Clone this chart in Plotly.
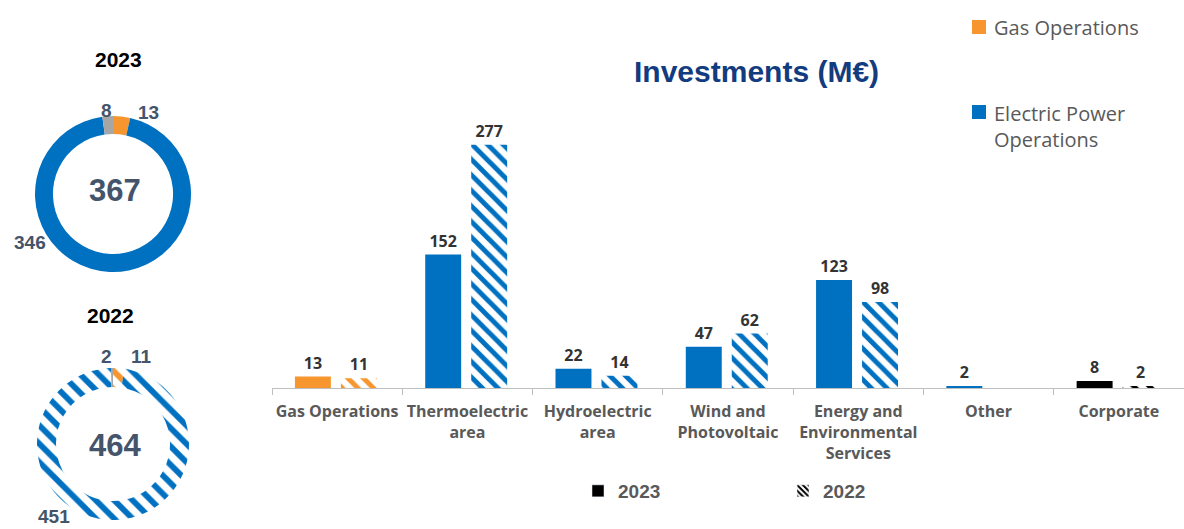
import plotly.graph_objects as go

# ---------------- data ----------------
categories = ["Gas Operations", "Thermoelectric<br>area", "Hydroelectric<br>area",
              "Wind and<br>Photovoltaic", "Energy and<br>Environmental<br>Services",
              "Other", "Corporate"]
values_2023 = [13, 152, 22, 47, 123, 2, 8]
values_2022 = [11, 277, 14, 62, 98, None, 2]
bar_colors = ["#F7962F", "#0070C0", "#0070C0", "#0070C0", "#0070C0", "#0070C0", "#000000"]

donut_labels = ["Gas Operations", "Electric Power Operations", "Corporate"]
donut_2023 = [13, 346, 8]
donut_2022 = [11, 451, 2]
donut_colors = ["#F7962F", "#0070C0", "#A6A6A6"]

legend_names = ["Gas Operations", "Electric Power<br>Operations"]
legend_colors = ["#F7962F", "#0070C0"]

W, H = 1184, 529
def px(x):
    return x / W
def py(y):
    return 1 - y / H

LABEL_FONT = "Open Sans"
SLATE = "#44546A"

fig = go.Figure()

# ---------------- bars ----------------
fig.add_trace(go.Bar(
    x=categories, y=values_2023,
    marker=dict(color=bar_colors, line=dict(width=0)),
    width=0.276, offset=-0.324,
    text=[f"<b>{v}</b>" if v is not None else "" for v in values_2023],
    textposition="outside", cliponaxis=False,
    textfont=dict(family=LABEL_FONT, size=16, color="#333333"),
    showlegend=False, hoverinfo="skip",
))
fig.add_trace(go.Bar(
    x=categories, y=values_2022,
    marker=dict(color=bar_colors, line=dict(width=0),
                pattern=dict(shape="\\", fgcolor=bar_colors, bgcolor="white",
                             size=11, solidity=0.45, fillmode="replace")),
    width=0.276, offset=0.029,
    text=[f"<b>{v}</b>" if v is not None else "" for v in values_2022],
    textposition="outside", cliponaxis=False,
    textfont=dict(family=LABEL_FONT, size=16, color="#333333"),
    showlegend=False, hoverinfo="skip",
))

# legend-only traces (on a hidden axis pair)
fig.add_trace(go.Bar(x=[None], y=[None], name="2023", marker=dict(color="black"),
                     xaxis="x2", yaxis="y2", showlegend=True))
fig.add_trace(go.Bar(x=[None], y=[None], name="2022",
                     marker=dict(color="black",
                                 pattern=dict(shape="\\", fgcolor="black", bgcolor="white",
                                              size=5, solidity=0.5, fillmode="replace")),
                     xaxis="x2", yaxis="y2", showlegend=True))

# ---------------- donuts ----------------
fig.add_trace(go.Pie(
    labels=donut_labels, values=donut_2023, sort=False, direction="clockwise",
    rotation=0, hole=0.77, textinfo="none", showlegend=False,
    marker=dict(colors=donut_colors, line=dict(width=0)),
    domain=dict(x=[px(34), px(192)], y=[py(272), py(116)]),
    hoverinfo="skip",
))
fig.add_trace(go.Pie(
    labels=donut_labels, values=donut_2022, sort=False, direction="clockwise",
    rotation=0, hole=0.75, textinfo="none", showlegend=False,
    marker=dict(colors=["white", "white", donut_colors[2]], line=dict(width=0),
                pattern=dict(shape=["\\", "\\", ""], fgcolor=donut_colors,
                             bgcolor="white", size=13, solidity=0.45, fillmode="replace")),
    domain=dict(x=[px(36), px(190)], y=[py(520), py(368)]),
    hoverinfo="skip",
))

annotations = []
def ann(x, y, text, size, color, family="Liberation Sans", **kw):
    d = dict(xref="paper", yref="paper", x=px(x), y=py(y), text=text, showarrow=False,
             xanchor="center", yanchor="middle",
             font=dict(family=family, size=size, color=color))
    d.update(kw)
    annotations.append(d)

# donut titles and totals
ann(118, 60, "<b>2023</b>", 21, "black")
ann(110, 315, "<b>2022</b>", 21, "black")
ann(115, 190, f"<b>{sum(donut_2023)}</b>", 31, SLATE)
ann(115, 445, f"<b>{sum(donut_2022)}</b>", 31, SLATE)

# donut slice values
slice_pos_2023 = [(148, 112), (30, 243), (106, 110)]
slice_pos_2022 = [(141, 356), (54, 516), (106, 356)]
for v, (x, y) in zip(donut_2023, slice_pos_2023):
    ann(x, y, f"<b>{v}</b>", 19, SLATE)
for v, (x, y) in zip(donut_2022, slice_pos_2022):
    ann(x, y, f"<b>{v}</b>", 19, SLATE)

# title
ann(756, 72, "<b>Investments (M€)</b>", 30, "#123B80")

# top-right legend
shapes = []
leg_y = [(27, 27), (112, 126)]
for name, col, (sy, ty) in zip(legend_names, legend_colors, leg_y):
    shapes.append(dict(type="rect", xref="paper", yref="paper",
                       x0=px(972), x1=px(986), y0=py(sy + 7), y1=py(sy - 7),
                       fillcolor=col, line=dict(width=0)))
    ann(992, ty, name, 20, "#595959", family="Open Sans",
        xanchor="left", yanchor="middle", align="left")

fig.update_layout(
    width=W, height=H,
    margin=dict(l=0, r=0, t=0, b=0),
    paper_bgcolor="white", plot_bgcolor="white",
    barmode="overlay",
    xaxis=dict(domain=[px(272), 1.0], type="category",
               showline=True, linecolor="#BFBFBF", linewidth=1,
               ticks="outside", tickson="boundaries", ticklen=6, tickcolor="#BFBFBF",
               ticklabelstandoff=9, tickangle=0,
               tickfont=dict(family=LABEL_FONT, size=16, color="#595959", weight="bold"),
               showgrid=False, zeroline=False, fixedrange=True),
    yaxis=dict(domain=[py(388), py(100)], range=[0, 328], visible=False,
               showgrid=False, zeroline=False),
    xaxis2=dict(domain=[0, 0.01], visible=False, anchor="y2"),
    yaxis2=dict(domain=[0, 0.01], visible=False, anchor="x2"),
    legend=dict(orientation="h", x=px(578), xanchor="left", y=py(491), yanchor="middle",
                entrywidth=160, entrywidthmode="pixels", itemwidth=30,
                font=dict(family="Liberation Sans", size=19, color="#595959", weight="bold"),
                bgcolor="rgba(0,0,0,0)"),
    annotations=annotations,
    shapes=shapes,
)

fig.write_html("out.html")
